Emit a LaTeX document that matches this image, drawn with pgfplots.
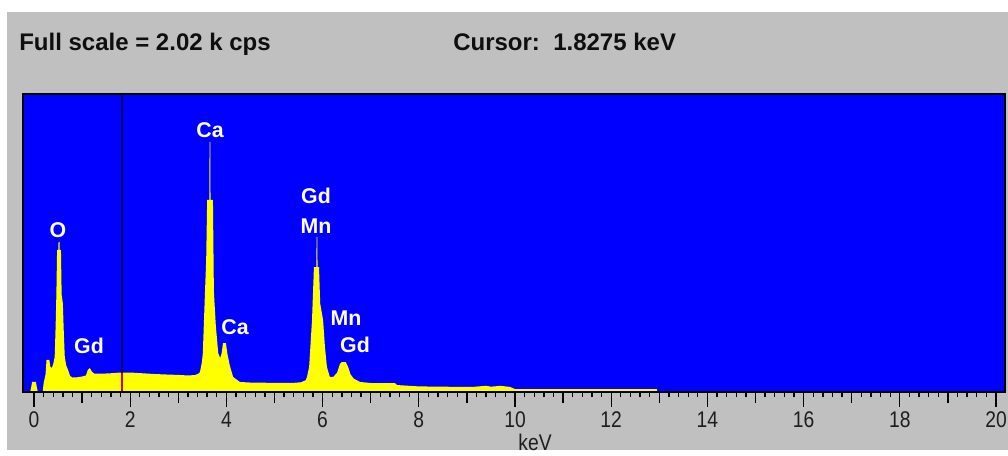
\documentclass[border=0pt]{standalone}
\usepackage{fontspec}
\setmainfont{Liberation Sans}
\newfontfamily\tickfont[FakeStretch=0.85]{Liberation Sans}
\usepackage{pgfplots}
\usepackage{pgfplotstable}
\pgfplotsset{compat=1.18}
\definecolor{bggray}{RGB}{192,192,192}
\definecolor{plotblue}{RGB}{0,0,255}
\definecolor{specyellow}{RGB}{255,255,0}
\definecolor{cursorline}{RGB}{10,10,90}
\definecolor{cursorred}{RGB}{210,0,0}
\definecolor{ticktext}{RGB}{30,30,30}
\definecolor{hdrtext}{RGB}{15,15,15}

\pgfplotstableread{
x y
-0.2287 0
-0.08 0
-0.06 30
-0.04 68
0.04 68
0.06 30
0.08 0
0.18 0
0.20 60
0.24 120
0.26 217
0.32 217
0.34 170
0.37 163
0.40 190
0.43 237
0.45 450
0.465 658
0.48 963
0.505 963
0.51 1017
0.53 1017
0.535 963
0.56 963
0.575 658
0.60 600
0.62 400
0.64 237
0.67 180
0.71 149
0.75 110
0.80 98
0.90 100
1.00 105
1.08 112
1.12 150
1.16 163
1.20 140
1.25 125
1.40 124
1.60 127
1.80 132
2.00 132
2.20 128
2.50 122
2.80 118
3.00 116
3.20 112
3.35 115
3.42 125
3.45 135
3.49 200
3.51 264
3.53 450
3.555 678
3.58 900
3.60 1302
3.645 1302
3.65 1695
3.665 1695
3.67 1302
3.72 1302
3.74 678
3.78 450
3.83 264
3.87 231
3.90 260
3.93 332
3.99 332
4.02 260
4.07 180
4.14 102
4.28 68
4.50 64
5.00 62
5.40 62
5.55 66
5.65 80
5.675 102
5.72 170
5.78 488
5.82 847
5.87 847
5.875 1051
5.89 1051
5.895 847
5.925 847
5.95 600
6.01 488
6.05 300
6.09 170
6.15 102
6.22 102
6.30 130
6.36 190
6.40 203
6.48 203
6.53 170
6.58 120
6.65 90
6.78 68
7.00 61
7.50 61
7.55 47
8.00 38
8.50 36
9.10 34
9.40 42
9.50 36
9.70 42
9.90 34
10.00 20
12.95 20
12.96 0
20.187 0
}\spectrum

\begin{document}
\begin{tikzpicture}[x=0.75pt,y=0.75pt]
\fill[white] (0,0) rectangle (1008,455);
\fill[bggray] (7,5) rectangle (1008,443);
\begin{axis}[
  at={(17.25pt,47.25pt)}, anchor=south west,
  scale only axis, width=736.5pt, height=223.5pt,
  xmin=-0.2287, xmax=20.187, ymin=0, ymax=2020,
  axis background/.style={fill=plotblue},
  axis line style={black, line width=1.2pt},
  axis on top,
  ytick=\empty,
  xtick={0,2,...,20},
  xticklabels={0,2,4,6,8,10,12,14,16,18,20},
  minor x tick num=9,
  extra x ticks={1,3,...,19},
  extra x tick labels={},
  extra x tick style={major tick length=8.25pt},
  tick align=outside,
  major tick length=11.25pt,
  minor tick length=4.1pt,
  every tick/.style={black, line width=1pt},
  xtick pos=bottom,
  xticklabel style={font=\tickfont\fontsize{17pt}{18pt}\selectfont, text=ticktext, inner sep=0pt, anchor=north, yshift=-3.5pt},
]
\addplot[fill=specyellow, draw=none] table[x=x, y=y] {\spectrum} \closedcycle;
\draw[cursorline, line width=0.9pt] (axis cs:1.8275,0) -- (axis cs:1.8275,2020);
\draw[cursorred, line width=0.9pt] (axis cs:1.8275,0) -- (axis cs:1.8275,132);
\end{axis}
% peak labels
\begin{scope}[every node/.style={text=white, font=\bfseries\fontsize{16pt}{18pt}\selectfont, inner sep=0pt}]
\node at (58,225) {O};
\node at (89,109) {Gd};
\node at (210,325) {Ca};
\node at (235,128) {Ca};
\node at (316,259) {Gd};
\node at (316,229) {Mn};
\node at (346,137) {Mn};
\node at (355,110) {Gd};
\end{scope}
% header
\node[anchor=base west, inner sep=0pt, text=hdrtext, font=\bfseries\fontsize{18pt}{20pt}\selectfont] at (19,405) {Full scale = 2.02 k cps};
\node[anchor=base west, inner sep=0pt, text=hdrtext, font=\bfseries\fontsize{18pt}{20pt}\selectfont] at (453,405) {Cursor:\ \ 1.8275 keV};
% x label
\node[inner sep=0pt, text=ticktext, font=\tickfont\fontsize{17pt}{18pt}\selectfont] at (535,13) {keV};
\end{tikzpicture}
\end{document}
